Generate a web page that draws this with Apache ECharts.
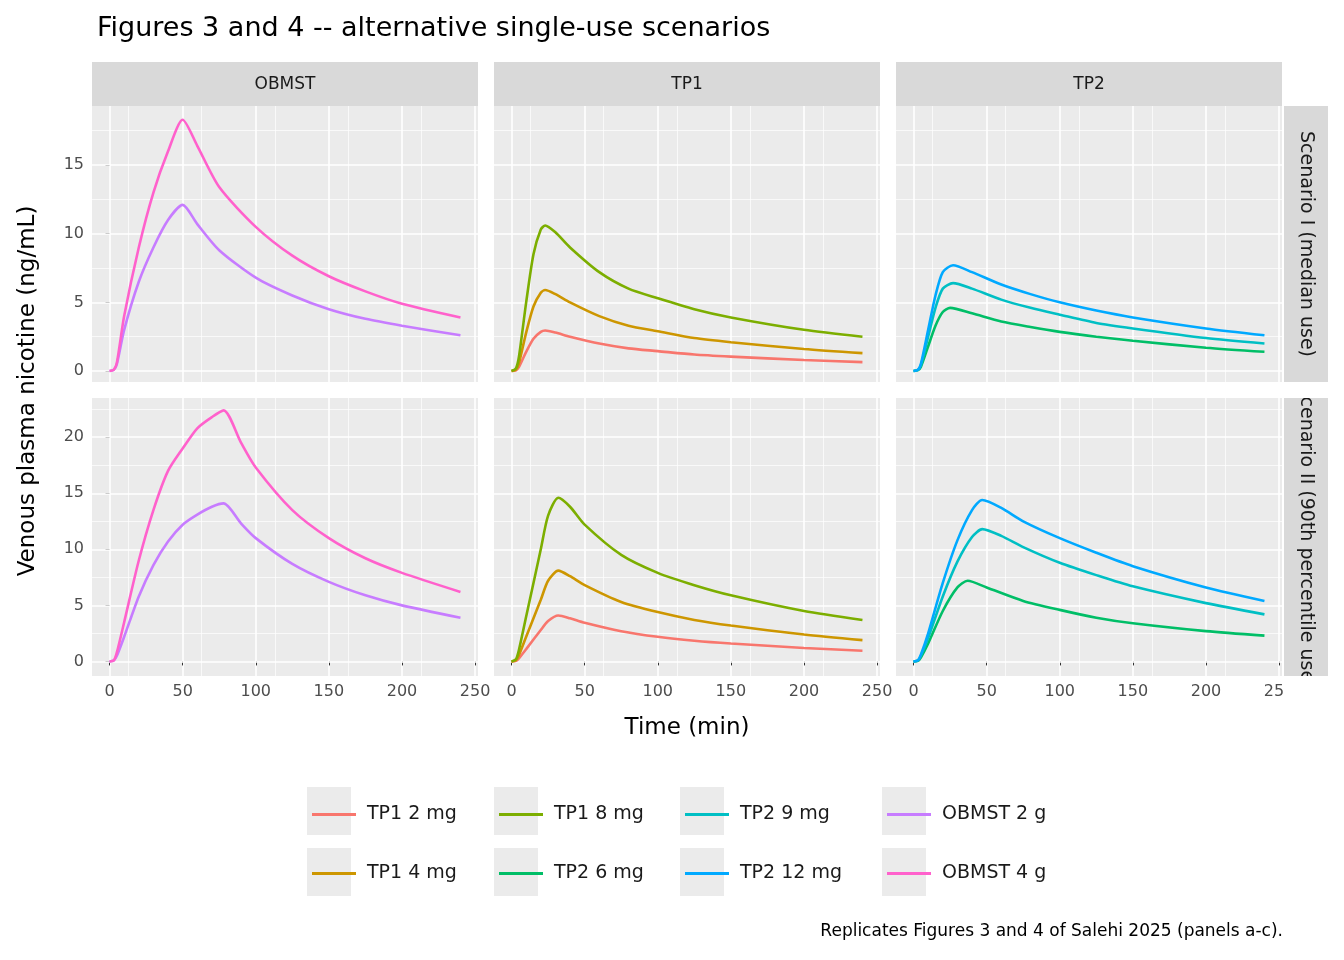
<!DOCTYPE html><html><head><meta charset="utf-8"><script src="https://cdn.jsdelivr.net/npm/echarts@6/dist/echarts.min.js"></script></head><body style="margin:0"><div id="c" style="width:1344px;height:960px"></div><script>
const xTicks=[0,50,100,150,200,250];
// Scenario I
const I_OB4=[[0,0],[3,0.1],[5,0.6],[10,4],[20,9],[30,13],[40,16],[50,18.3],[60,16.4],[75,13.4],[100,10.5],[125,8.4],[150,6.9],[175,5.8],[200,4.9],[240,3.9]];
const I_OB2=[[0,0],[3,0.1],[5,0.5],[10,3],[20,6.5],[30,9],[40,11],[50,12.1],[60,10.7],[75,8.8],[100,6.8],[125,5.5],[150,4.5],[175,3.8],[200,3.3],[240,2.6]];
const I_TP1_8=[[0,0],[3,0.2],[5,1],[10,5],[15,8.5],[20,10.3],[23,10.6],[30,10.1],[40,9],[60,7.2],[80,6.0],[100,5.3],[125,4.5],[150,3.9],[200,3.0],[240,2.5]];
const I_TP1_4=[[0,0],[3,0.1],[5,0.55],[10,2.8],[15,4.7],[20,5.7],[23,5.9],[30,5.6],[40,5.0],[60,4.0],[80,3.3],[100,2.9],[125,2.4],[150,2.1],[200,1.6],[240,1.3]];
const I_TP1_2=[[0,0],[3,0.05],[5,0.28],[10,1.4],[15,2.35],[20,2.85],[23,2.95],[30,2.8],[40,2.5],[60,2.0],[80,1.65],[100,1.45],[125,1.2],[150,1.05],[200,0.8],[240,0.65]];
const I_TP2_12=[[0,0],[3,0.1],[5,0.5],[10,3],[15,5.5],[20,7.2],[27,7.7],[40,7.2],[60,6.3],[80,5.6],[100,5.0],[125,4.4],[150,3.9],[200,3.1],[240,2.6]];
const I_TP2_9=[[0,0],[3,0.08],[5,0.42],[10,2.5],[15,4.6],[20,6.0],[27,6.4],[40,6.0],[60,5.2],[80,4.6],[100,4.1],[125,3.5],[150,3.1],[200,2.4],[240,2.0]];
const I_TP2_6=[[0,0],[3,0.06],[5,0.3],[10,1.8],[15,3.3],[20,4.3],[25,4.6],[40,4.2],[60,3.6],[80,3.2],[100,2.85],[125,2.5],[150,2.2],[200,1.7],[240,1.4]];
// Scenario II
const II_OB4=[[0,0],[3,0.1],[5,0.8],[10,3.5],[20,9],[30,13.5],[40,17],[50,19],[60,20.8],[70,21.8],[78,22.4],[90,19.5],[100,17.3],[125,13.5],[150,11],[175,9.2],[200,7.9],[240,6.2]];
const II_OB2=[[0,0],[3,0.1],[5,0.5],[10,2.2],[20,5.8],[30,8.6],[40,10.7],[50,12.2],[60,13.1],[70,13.8],[78,14.1],[90,12.3],[100,11],[125,8.7],[150,7.1],[175,5.9],[200,5.0],[240,3.9]];
const II_TP1_8=[[0,0],[3,0.2],[5,1],[10,4],[20,10],[25,13],[32,14.6],[40,13.8],[50,12.2],[75,9.5],[100,7.9],[125,6.8],[150,5.9],[200,4.5],[240,3.7]];
const II_TP1_4=[[0,0],[3,0.1],[5,0.55],[10,2.2],[20,5.5],[25,7.2],[32,8.1],[40,7.6],[50,6.8],[75,5.3],[100,4.4],[125,3.7],[150,3.2],[200,2.4],[240,1.9]];
const II_TP1_2=[[0,0],[3,0.05],[5,0.28],[10,1.1],[20,2.8],[25,3.6],[32,4.1],[40,3.85],[50,3.45],[75,2.7],[100,2.2],[125,1.85],[150,1.6],[200,1.2],[240,0.95]];
const II_TP2_12=[[0,0],[3,0.1],[5,0.6],[10,2.5],[20,7],[30,10.8],[40,13.5],[47,14.4],[60,13.7],[75,12.5],[100,11],[125,9.7],[150,8.5],[200,6.6],[240,5.4]];
const II_TP2_9=[[0,0],[3,0.08],[5,0.5],[10,2.1],[20,5.8],[30,8.9],[40,11.1],[47,11.8],[60,11.2],[75,10.2],[100,8.8],[125,7.7],[150,6.7],[200,5.2],[240,4.2]];
const II_TP2_6=[[0,0],[3,0.05],[5,0.35],[10,1.6],[20,4.5],[30,6.6],[37,7.2],[50,6.6],[75,5.4],[100,4.6],[125,3.9],[150,3.4],[200,2.7],[240,2.3]];
const names=['TP1 2 mg','TP1 4 mg','TP1 8 mg','TP2 6 mg','TP2 9 mg','TP2 12 mg','OBMST 2 g','OBMST 4 g'];
const colors=['#F8766D','#CD9600','#7CAE00','#00BE67','#00BFC4','#00A9FF','#C77CFF','#FF61CC'];
const colLefts=['OBMST','TP1','TP2'];
const rowLabels=['Scenario I (median use)','Scenario II (90th percentile use)'];
const panels=[
 [[6,I_OB2],[7,I_OB4]],[[0,I_TP1_2],[1,I_TP1_4],[2,I_TP1_8]],[[3,I_TP2_6],[4,I_TP2_9],[5,I_TP2_12]],
 [[6,II_OB2],[7,II_OB4]],[[0,II_TP1_2],[1,II_TP1_4],[2,II_TP1_8]],[[3,II_TP2_6],[4,II_TP2_9],[5,II_TP2_12]]];
const FF="'DejaVu Sans'";
const L=[92,494,896],W=386,T=[106,398],H=[276,278];
const grid=[],xAxis=[],yAxis=[],series=[];
const ax={fontSize:16,color:'#4d4d4d',fontFamily:FF};
for(let r=0;r<2;r++)for(let c=0;c<3;c++){
 const i=r*3+c;
 grid.push({left:L[c],top:T[r],width:W,height:H[r],backgroundColor:'#EBEBEB',show:true,borderWidth:0});
 xAxis.push({type:'value',gridIndex:i,min:-12,max:252,interval:50,
  axisLabel:{show:r==1,...ax,margin:8,customValues:xTicks,formatter:v=>v},axisTick:{show:r==1,length:4,lineStyle:{color:'#333'},customValues:xTicks},
  axisLine:{show:false},splitLine:{lineStyle:{color:'#fff',width:1.6}},
  minorTick:{show:false,splitNumber:2},minorSplitLine:{show:true,lineStyle:{color:'#fff',width:0.7}}});
 const ymax=r==0?19.3:23.5,ymin=r==0?-0.8:-1.3;
 const yt=r==0?[0,5,10,15]:[0,5,10,15,20];
 yAxis.push({type:'value',gridIndex:i,min:ymin,max:ymax,
  axisLabel:{show:c==0,...ax,customValues:yt},axisTick:{show:c==0,length:4,lineStyle:{color:'#333'},customValues:yt},
  axisLine:{show:false},splitLine:{show:false},minorSplitLine:{show:false}});
 const major=yt, minor=yt.map(v=>v+2.5).filter(v=>v<ymax);
 panels[i].forEach(([k,d],j)=>{
  const s={type:'line',name:names[k],xAxisIndex:i,yAxisIndex:i,data:d,showSymbol:false,smooth:0.25,
   lineStyle:{color:colors[k],width:2.6},itemStyle:{color:colors[k]},z:5};
  if(j==0){s.markLine={silent:true,symbol:'none',label:{show:false},z:1,
   data:[...major.map(v=>({yAxis:v,lineStyle:{color:'#fff',width:1.6,type:'solid'}})),...minor.map(v=>({yAxis:v,lineStyle:{color:'#fff',width:0.7,type:'solid'}}))]};}
  series.push(s);
 });
}
const legendCols=[[0,1],[2,3],[4,5],[6,7]],legX=[307,494,680,882];
const legend=legendCols.map((ks,j)=>({orient:'vertical',left:legX[j],top:800,itemGap:40,itemWidth:44,itemHeight:3,
 icon:'rect',textStyle:{fontSize:19,color:'#1a1a1a',padding:[0,0,0,6],fontFamily:FF},data:ks.map(k=>names[k]),selectedMode:false}));
const g=[];
legendCols.forEach((ks,j)=>ks.forEach((k,m)=>g.push({type:'rect',left:legX[j],top:787+m*61,shape:{width:44,height:48},style:{fill:'#EBEBEB'},z:-1})));
const txt=(o)=>({fontFamily:FF,fill:'#1a1a1a',align:'center',verticalAlign:'middle',...o});
for(let c=0;c<3;c++){g.push({type:'rect',left:L[c],top:62,shape:{width:W,height:44},style:{fill:'#D9D9D9'}});
 g.push({type:'text',x:L[c]+W/2,y:85,style:txt({text:colLefts[c],fontSize:17})});}
g.push({type:'rect',left:1284,top:398,shape:{width:44,height:278},style:{fill:'#D9D9D9'},z:0});
g.push({type:'text',x:1306,y:537,rotation:-Math.PI/2,style:txt({text:rowLabels[1],fontSize:19}),z:1});
g.push({type:'rect',left:1284,top:382,shape:{width:60,height:16},style:{fill:'#fff'},z:2});
g.push({type:'rect',left:1284,top:676,shape:{width:60,height:100},style:{fill:'#fff'},z:2});
g.push({type:'rect',left:1284,top:106,shape:{width:44,height:276},style:{fill:'#D9D9D9'},z:3});
g.push({type:'text',x:1306,y:244,rotation:-Math.PI/2,style:txt({text:rowLabels[0],fontSize:19}),z:4});
g.push({type:'text',x:28,y:391,rotation:Math.PI/2,style:txt({text:'Venous plasma nicotine (ng/mL)',fontSize:23,fill:'#000'})});
g.push({type:'text',x:687,y:728,style:txt({text:'Time (min)',fontSize:23,fill:'#000'})});
g.push({type:'text',x:1283,y:932,style:txt({text:'Replicates Figures 3 and 4 of Salehi 2025 (panels a-c).',fontSize:17,fill:'#000',align:'right'})});
const chart=echarts.init(document.getElementById('c'));
chart.setOption({animation:false,backgroundColor:'#fff',textStyle:{fontFamily:FF},
 title:{text:'Figures 3 and 4 -- alternative single-use scenarios',left:92,top:10,textStyle:{fontSize:27,fontWeight:'normal',color:'#000',fontFamily:FF}},
 grid,xAxis,yAxis,series,legend,graphic:g});
</script></body></html>
